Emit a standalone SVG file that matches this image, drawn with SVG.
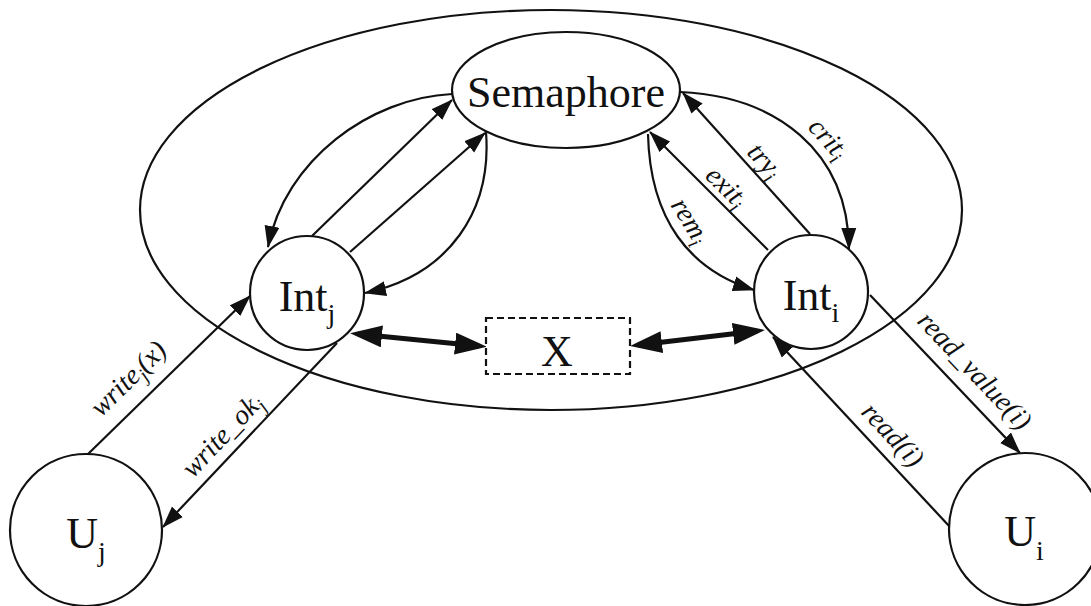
<svg xmlns="http://www.w3.org/2000/svg" width="1091" height="606" viewBox="0 0 1091 606">
  <style>
    .shape { fill: none; stroke: #111; stroke-width: 2.2; }
    .node { fill: #fff; stroke: #111; stroke-width: 2.2; }
    .name { font-family: "Liberation Serif", "Times New Roman", serif; font-size: 44px; fill: #111; }
    .nsub { font-size: 28px; }
    .lbl { font-family: "Liberation Serif", "Times New Roman", serif; font-style: italic; font-size: 28px; fill: #111; }
    .lsub { font-size: 20px; }
    .thin { fill: none; stroke: #111; stroke-width: 2.2; marker-end: url(#arrow); }
    .thick { fill: none; stroke: #111; stroke-width: 5; marker-start: url(#bigArrow); marker-end: url(#bigArrow); }
  </style>
  <defs>
    <marker id="arrow" markerUnits="userSpaceOnUse" markerWidth="22" markerHeight="16" viewBox="0 0 22 16" refX="21" refY="8" orient="auto">
      <path d="M0,0.5 L22,8 L0,15.5 z" fill="#111"/>
    </marker>
    <marker id="bigArrow" markerUnits="userSpaceOnUse" markerWidth="32" markerHeight="22" viewBox="0 0 32 22" refX="24" refY="11" orient="auto-start-reverse">
      <path d="M0,0 L32,11 L0,22 z" fill="#111"/>
    </marker>
  </defs>

  <rect width="1091" height="606" fill="#fff"/>

  <!-- system boundary -->
  <ellipse id="boundary" class="shape" cx="551" cy="210" rx="411" ry="200"/>

  <!-- connectors -->
  <g id="connectors">
    <!-- Int_j <-> Semaphore -->
    <path class="thin" d="M452,94 C370,98 285,160 268,247"/>
    <path class="thin" d="M312,236 L452,100"/>
    <path class="thin" d="M350,252 L485,133"/>
    <path class="thin" d="M486,132 C492,210 450,275 365,293"/>
    <!-- Int_i <-> Semaphore -->
    <path class="thin" d="M680,92 C775,96 848,150 849,249"/>
    <path class="thin" d="M810,234 L683,93"/>
    <path class="thin" d="M768,250 L650,132"/>
    <path class="thin" d="M648,134 C650,220 690,270 754,290"/>
    <!-- shared variable access -->
    <path class="thick" d="M358,334 L479,346"/>
    <path class="thick" d="M638,345 L757,331"/>
    <!-- users -->
    <path class="thin" d="M87,455 L250,296"/>
    <path class="thin" d="M337,343 L163,527"/>
    <path class="thin" d="M870,295 L1020,453"/>
    <path class="thin" d="M950,527 L773,337"/>
  </g>

  <!-- connector labels -->
  <g id="labels">
    <text class="lbl" transform="translate(101,418) rotate(-44.5)">write<tspan class="lsub" dy="6">j</tspan><tspan dy="-6">(x)</tspan></text>
    <text class="lbl" transform="translate(193,479) rotate(-46.6)">write_ok<tspan class="lsub" dy="6">j</tspan></text>
    <text class="lbl" transform="translate(916,322) rotate(46.5)">read_value(i)</text>
    <text class="lbl" transform="translate(860,413) rotate(47)">read(i)</text>
    <text class="lbl" transform="translate(807,128) rotate(48)">crit<tspan class="lsub" dy="6">i</tspan></text>
    <text class="lbl" transform="translate(746,153) rotate(47.8)">try<tspan class="lsub" dy="6">i</tspan></text>
    <text class="lbl" transform="translate(704,177) rotate(44.8)">exit<tspan class="lsub" dy="6">i</tspan></text>
    <text class="lbl" transform="translate(670,205) rotate(58)">rem<tspan class="lsub" dy="6">i</tspan></text>
  </g>

  <g id="semaphore">
    <ellipse class="node" cx="566" cy="90" rx="114" ry="58"/>
    <text class="name" x="566" y="107" text-anchor="middle" font-size="42">Semaphore</text>
  </g>

  <g id="int_j">
    <circle class="node" cx="307" cy="293" r="57"/>
    <text class="name" x="307" y="311" text-anchor="middle">Int<tspan class="nsub" dy="12">j</tspan></text>
  </g>

  <g id="int_i">
    <circle class="node" cx="811" cy="292" r="57"/>
    <text class="name" x="811" y="310" text-anchor="middle">Int<tspan class="nsub" dy="12">i</tspan></text>
  </g>

  <g id="x">
    <rect x="486" y="318" width="144" height="56" fill="#fff" stroke="#111" stroke-width="2.2" stroke-dasharray="7 4"/>
    <text class="name" x="557" y="366" text-anchor="middle" font-size="42">X</text>
  </g>

  <g id="u_j">
    <circle class="node" cx="86" cy="530" r="76"/>
    <text class="name" x="86" y="548" text-anchor="middle" font-size="46">U<tspan class="nsub" dy="13">j</tspan></text>
  </g>

  <g id="u_i">
    <circle class="node" cx="1025" cy="529" r="76"/>
    <text class="name" x="1024" y="546" text-anchor="middle" font-size="46">U<tspan class="nsub" dy="14">i</tspan></text>
  </g>
</svg>
